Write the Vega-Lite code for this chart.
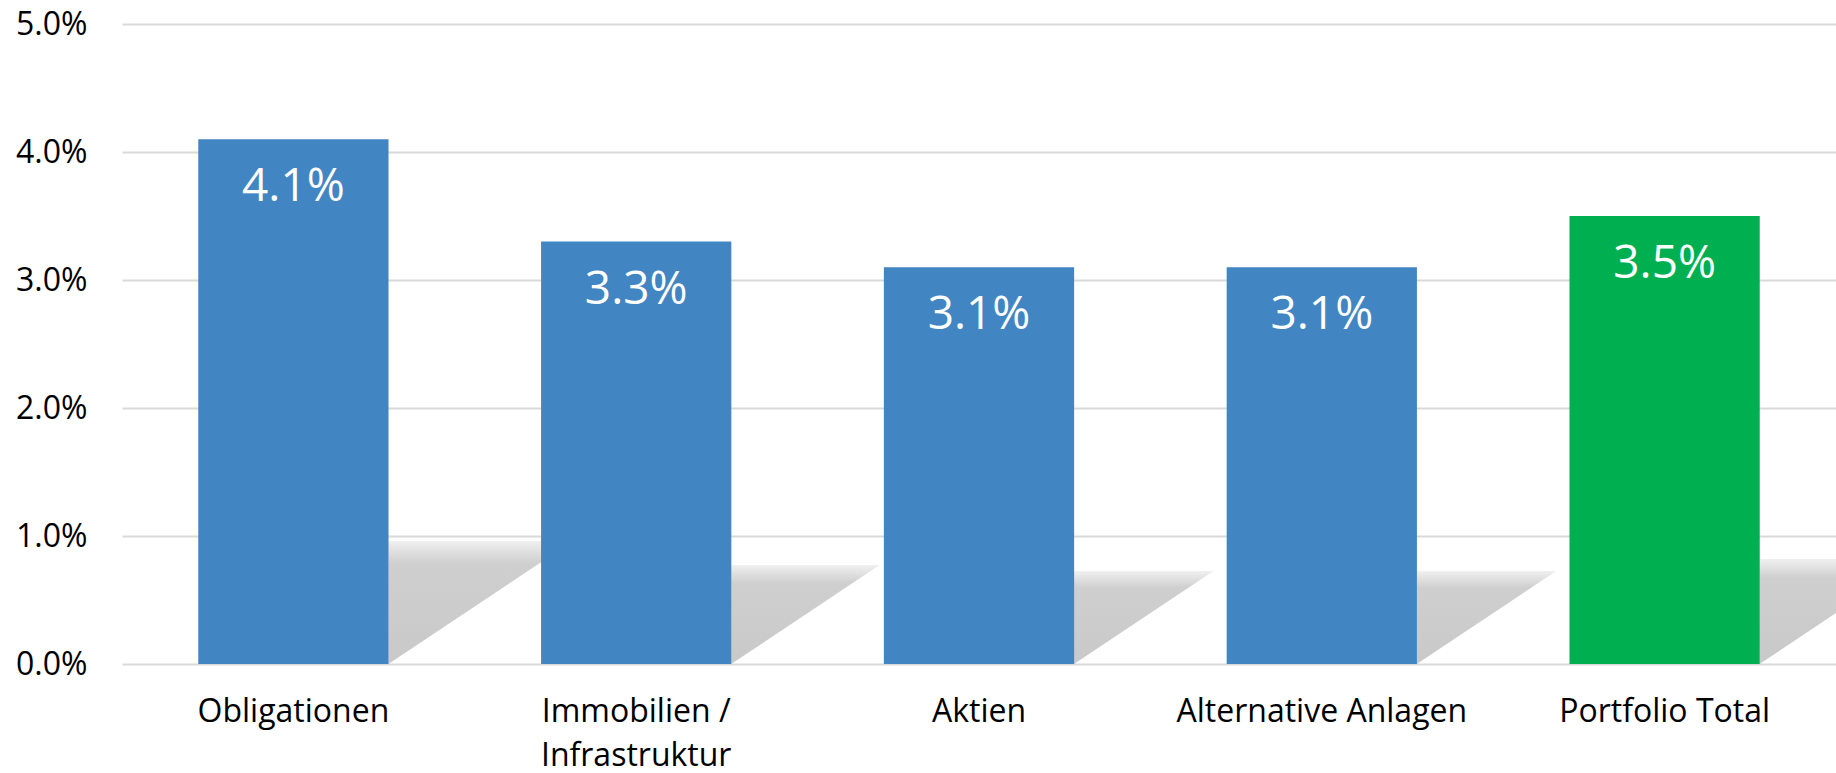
{
  "$schema": "https://vega.github.io/schema/vega-lite/v6.json",
  "autosize": {"type": "none"},
  "padding": {"left": 122, "top": 24, "right": 0, "bottom": 109},
  "width": 1714,
  "height": 640,
  "background": "white",
  "config": {"view": {"stroke": null}, "font": "Open Sans"},
  "data": {
    "values": [
      {"kategorie": "Obligationen", "wert": 0.041, "typ": "Anlageklasse"},
      {"kategorie": "Immobilien / Infrastruktur", "wert": 0.033, "typ": "Anlageklasse"},
      {"kategorie": "Aktien", "wert": 0.031, "typ": "Anlageklasse"},
      {"kategorie": "Alternative Anlagen", "wert": 0.031, "typ": "Anlageklasse"},
      {"kategorie": "Portfolio Total", "wert": 0.035, "typ": "Total"}
    ]
  },
  "encoding": {
    "x": {
      "field": "kategorie",
      "type": "nominal",
      "sort": null,
      "scale": {"paddingInner": 0.445, "paddingOuter": 0.2225},
      "axis": {
        "title": null,
        "domain": false,
        "ticks": false,
        "labelAngle": 0,
        "labelPadding": 32,
        "labelLimit": 0,
        "labelFont": "Open Sans",
        "labelFontSize": 32,
        "labelColor": "#000000",
        "labelLineHeight": 44,
        "labelExpr": "datum.label == 'Immobilien / Infrastruktur' ? ['Immobilien /', 'Infrastruktur'] : datum.label"
      }
    }
  },
  "layer": [
    {
      "mark": {
        "type": "point",
        "filled": true,
        "clip": true,
        "shape": "M0,0 L0,-1 L1.5,-1 Z",
        "xOffset": 95,
        "opacity": 1,
        "strokeWidth": 0,
        "fill": {
          "gradient": "linear",
          "x1": 0, "y1": 0, "x2": 0, "y2": 1,
          "stops": [
            {"offset": 0, "color": "#f0f0f0"},
            {"offset": 0.18, "color": "#cfcfcf"},
            {"offset": 1, "color": "#c9c9c9"}
          ]
        }
      },
      "encoding": {
        "y": {"datum": 0, "type": "quantitative"},
        "size": {
          "field": "wert",
          "type": "quantitative",
          "scale": {"type": "pow", "exponent": 2, "domain": [0, 0.05], "range": [0, 90000]},
          "legend": null
        }
      }
    },
    {
      "mark": {"type": "bar"},
      "encoding": {
        "y": {
          "field": "wert",
          "type": "quantitative",
          "scale": {"domain": [0, 0.05], "nice": false},
          "axis": {
            "title": null,
            "values": [0, 0.01, 0.02, 0.03, 0.04, 0.05],
            "format": ".1%",
            "domain": false,
            "ticks": false,
            "grid": true,
            "gridColor": "#d9d9d9",
            "gridWidth": 2,
            "labelPadding": 35,
            "labelFont": "Open Sans",
            "labelFontSize": 32,
            "labelColor": "#000000"
          }
        },
        "color": {
          "field": "typ",
          "type": "nominal",
          "scale": {"domain": ["Anlageklasse", "Total"], "range": ["#4285C3", "#00B050"]},
          "legend": null
        }
      }
    },
    {
      "mark": {
        "type": "text",
        "color": "white",
        "font": "Open Sans",
        "fontSize": 46,
        "baseline": "alphabetic",
        "align": "center",
        "dy": 62
      },
      "encoding": {
        "y": {"field": "wert", "type": "quantitative"},
        "text": {"field": "wert", "type": "quantitative", "format": ".1%"}
      }
    }
  ]
}
